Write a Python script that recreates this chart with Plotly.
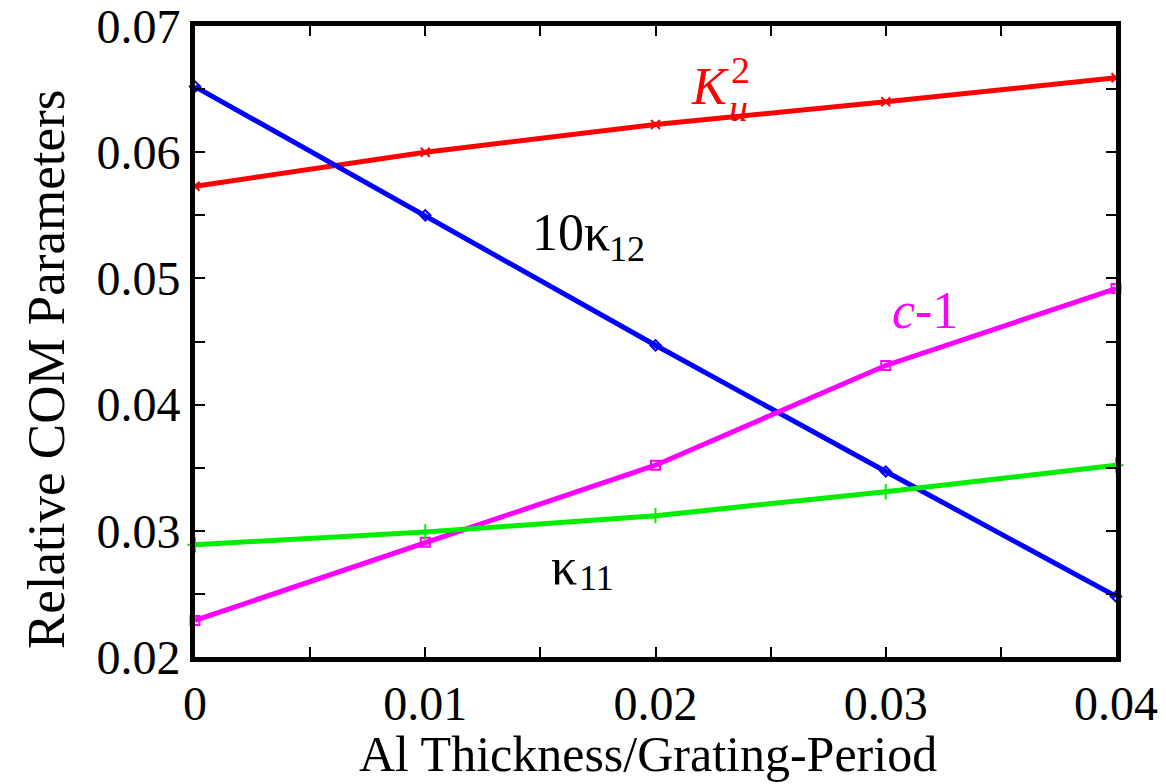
import plotly.graph_objects as go

x_vals = [0, 0.01, 0.02, 0.03, 0.04]
ku2 = [0.0573, 0.0600, 0.0622, 0.0640, 0.0659]
kappa12_x10 = [0.0652, 0.0550, 0.0447, 0.0347, 0.0248]
c_minus_1 = [0.0229, 0.0291, 0.0352, 0.0431, 0.0492]
kappa11 = [0.0289, 0.0299, 0.0312, 0.0331, 0.0352]

x_tickvals = [0, 0.01, 0.02, 0.03, 0.04]
x_ticktext = ["0", "0.01", "0.02", "0.03", "0.04"]
y_tickvals = [0.02, 0.03, 0.04, 0.05, 0.06, 0.07]
y_ticktext = ["0.02", "0.03", "0.04", "0.05", "0.06", "0.07"]

FONT = "Liberation Serif"
L, R, T, B = 195, 50, 26, 127
W, H = 1166, 784
pw, ph = W - L - R, H - T - B


def px2data(px, py):
    return ((px - L) / pw * 0.04, 0.02 + (H - B - py) / ph * 0.05)


fig = go.Figure()
series = [
    (ku2, "red", "x-thin", 9),
    (kappa12_x10, "blue", "diamond-open", 8),
    (c_minus_1, "magenta", "square-open", 9),
    (kappa11, "#00ee00", "cross-thin", 11),
]
for ys, col, sym, sz in series:
    fig.add_trace(go.Scatter(
        x=x_vals, y=ys, mode="lines+markers",
        line=dict(color=col, width=5),
        marker=dict(symbol=sym, size=sz, color=col, line=dict(color=col, width=2)),
        showlegend=False, cliponaxis=False,
    ))

ann = []


def add_text(px, py, text, size, color="black", italic=False):
    xd, yd = px2data(px, py)
    ann.append(dict(x=xd, y=yd, xref="x", yref="y", text=text, showarrow=False,
                    font=dict(family=FONT, size=size, color=color,
                              style="italic" if italic else "normal"),
                    xanchor="center", yanchor="middle"))


# K_u^2
add_text(710, 86, "K", 52, "red", True)
add_text(740, 70, "2", 38, "red")
add_text(738, 108, "u", 38, "red", True)
# 10 kappa12
add_text(571, 232, "10κ", 52)
add_text(627, 249, "12", 36)
# c-1
add_text(903, 310, "c", 52, "magenta", True)
add_text(936, 310, "-1", 52, "magenta")
# kappa11
add_text(564, 566, "κ", 52)
add_text(596, 578, "11", 36)

# y-axis title
ann.append(dict(x=(46 - L) / pw, y=(H - B - 370) / ph, xref="paper", yref="paper",
                text="Relative COM Parameters", showarrow=False, textangle=-90,
                xanchor="center", yanchor="middle",
                font=dict(family=FONT, size=53, color="black")))
# x-axis title
ann.append(dict(x=(648 - L) / pw, y=(H - B - 754) / ph, xref="paper", yref="paper",
                text="Al Thickness/Grating-Period", showarrow=False,
                xanchor="center", yanchor="middle",
                font=dict(family=FONT, size=50, color="black")))

axis_common = dict(
    showline=True, linecolor="black", linewidth=5, mirror="ticks",
    ticks="inside", ticklen=10, tickwidth=2, tickcolor="black",
    showgrid=False, zeroline=False, ticklabeloverflow="allow", automargin=False,
    tickfont=dict(family=FONT, size=48, color="black"),
)

fig.update_layout(
    width=W, height=H,
    margin=dict(l=L, r=R, t=T, b=B, autoexpand=False),
    paper_bgcolor="white", plot_bgcolor="white",
    font=dict(family=FONT),
    xaxis=dict(range=[0, 0.04], tickvals=x_tickvals, ticktext=x_ticktext, ticklabelstandoff=0,
               minor=dict(ticks="inside", dtick=0.005, ticklen=10, tickwidth=2, tickcolor="black"),
               **axis_common),
    yaxis=dict(range=[0.02, 0.0700001], tickvals=y_tickvals, ticktext=y_ticktext,
               minor=dict(ticks="inside", dtick=0.005, ticklen=10, tickwidth=2, tickcolor="black"),
               **axis_common),
    annotations=ann,
)

fig.write_html("out.html")
